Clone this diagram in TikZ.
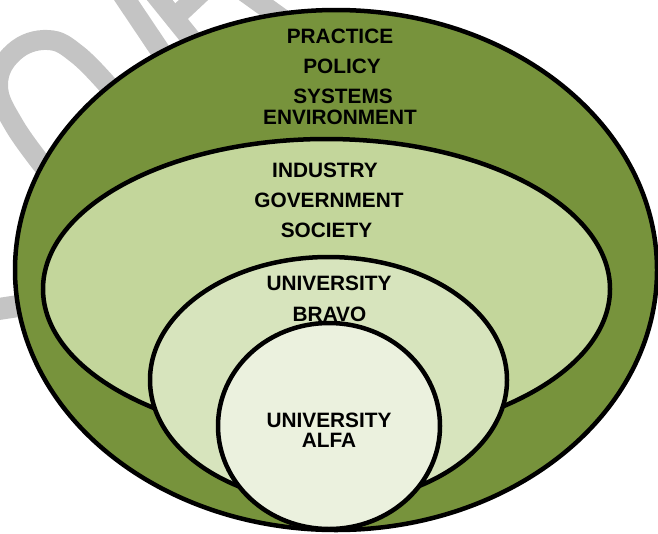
\documentclass[tikz,border=0pt]{standalone}
\usepackage{fontspec}
\setmainfont{Liberation Sans}
\definecolor{ringdark}{HTML}{77933C}
\definecolor{ringmid}{HTML}{C3D69B}
\definecolor{ringlight}{HTML}{D7E4BD}
\definecolor{ringcore}{HTML}{EBF1DE}
\definecolor{wmgray}{HTML}{C4C4C4}

\begin{document}
\begin{tikzpicture}[x=1pt, y=-1pt,
  every node/.style={font=\fontsize{20.8pt}{21pt}\selectfont\bfseries, inner sep=0pt, anchor=base},
  ring/.style={draw=black, line width=4.5pt},
  wm/.style={draw=wmgray, line width=20pt}]

\useasboundingbox (0,0) rectangle (658,533);

% ---------- WATERMARK ----------
\draw[wm] plot[smooth, tension=0.7] coordinates {(48,172) (14,125) (-2,85) (14,52) (48,40) (78,55) (112,90)};
\draw[wm] (118,-12) -- (165,58);
\draw[wm] (150,-12) -- (192,40);
\draw[wm] (170,22) -- (202,-8);
\draw[wm] (242,-10) -- (295,28);
\draw[wm, line width=22pt] (-8,310) -- (25,305);

% ---------- RINGS ----------
\filldraw[ring, fill=ringdark]  (336,270) ellipse [x radius=321pt, y radius=260pt];
\filldraw[ring, fill=ringmid]   (326.5,289) ellipse [x radius=283.5pt, y radius=150pt];
\filldraw[ring, fill=ringlight] (328.5,380) ellipse [x radius=178.5pt, y radius=123pt];
\filldraw[ring, fill=ringcore]  (329,426) ellipse [x radius=111pt, y radius=103pt];

% ---------- LABELS ----------
\node (practice)    at (340,43)  {PRACTICE};
\node (policy)      at (342,73)  {POLICY};
\node (systems)     at (343,103) {SYSTEMS};
\node (environment) at (340,124) {ENVIRONMENT};

\node (industry)    at (325,177) {INDUSTRY};
\node (government)  at (329,207) {GOVERNMENT};
\node (society)     at (326.5,237) {SOCIETY};

\node (univbravo)   at (329,290) {UNIVERSITY};
\node (bravo)       at (329.5,321) {BRAVO};

\node (univalfa)    at (329,427) {UNIVERSITY};
\node (alfa)        at (329,447) {ALFA};

\end{tikzpicture}
\end{document}
